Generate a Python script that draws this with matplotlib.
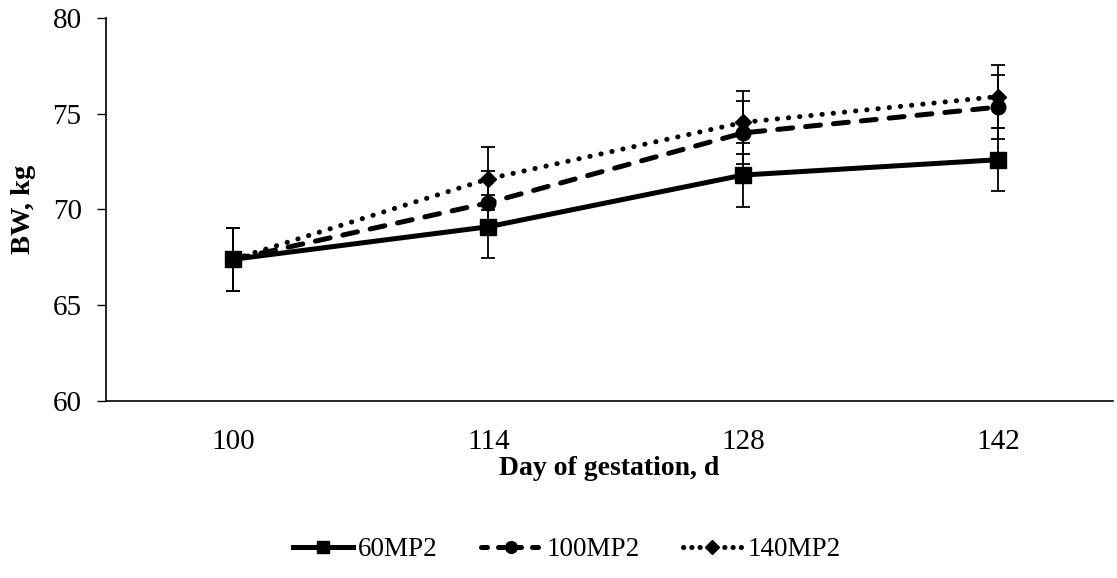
import matplotlib
matplotlib.use("Agg")
import matplotlib.pyplot as plt
from matplotlib.lines import Line2D
import numpy as np

days = ["100", "114", "128", "142"]
series_names = ["60MP2", "100MP2", "140MP2"]
bw_60 = [67.4, 69.1, 71.8, 72.6]
bw_100 = [67.4, 70.35, 74.0, 75.35]
bw_140 = [67.4, 71.6, 74.55, 75.9]
se_60 = [1.65, 1.65, 1.65, 1.65]
se_100 = [1.65, 1.65, 1.65, 1.65]
se_140 = [1.65, 1.65, 1.65, 1.65]
yticks = [60, 65, 70, 75, 80]

plt.rcParams['font.family'] = ['Liberation Serif', 'DejaVu Serif']

fig = plt.figure(figsize=(11.17, 5.78), dpi=100)
W, H = 1117, 578
ax = fig.add_axes([106 / W, 1 - 401 / H, (1113 - 106) / W, (401 - 18) / H])

x = np.arange(len(days))
styles = [
    dict(ls='-', leg_ls='-', marker='s', ms=11, cap='butt'),
    dict(ls=(0, (3, 2.6)), leg_ls=(0, (1.2, 2.2)), marker='o', ms=10.5, cap='round'),
    dict(ls=(0, (0.05, 2.2)), leg_ls=(0, (0.05, 1.6)), marker='D', ms=8.5, cap='round'),
]
data = [(bw_60, se_60), (bw_100, se_100), (bw_140, se_140)]
handles = []
for (vals, se), st, name in zip(data, styles, series_names):
    ax.errorbar(x, vals, yerr=se, fmt='none', ecolor='black', elinewidth=1.3,
                capsize=4.8, capthick=1.3, zorder=2)
    ax.plot(x, vals, color='black', lw=3.6, linestyle=st['ls'],
            marker=st['marker'], markersize=st['ms'],
            markerfacecolor='black', markeredgecolor='black',
            dash_capstyle=st['cap'], label=name, zorder=3)
    handles.append(Line2D([], [], color='black', lw=3.6, linestyle=st['leg_ls'],
                          marker=st['marker'], markersize=st['ms'] * 0.8,
                          markerfacecolor='black', markeredgecolor='black',
                          dash_capstyle=st['cap']))

ax.set_xlim(-0.5, 3.45)
ax.set_ylim(60, 80)
ax.set_xticks(x)
ax.set_xticklabels(days)
ax.set_yticks(yticks)
ax.tick_params(axis='x', length=0, pad=20, labelsize=21)
ax.tick_params(axis='y', length=6.5, width=1, direction='out', pad=11, labelsize=21)
for s in ['top', 'right']:
    ax.spines[s].set_visible(False)
ax.spines['left'].set_linewidth(1.2)
ax.spines['bottom'].set_linewidth(1.2)

ax.set_xlabel("Day of gestation, d", fontsize=20, fontweight='bold', labelpad=1)
ax.set_ylabel("BW, kg", fontsize=20.5, fontweight='bold', labelpad=12)

fig.legend(handles=handles, labels=series_names, loc='center',
           bbox_to_anchor=(567 / W, 1 - 550 / H), ncol=3, frameon=False,
           fontsize=19.5, handlelength=2.2, handletextpad=0.2, columnspacing=1.6)

fig.savefig("out.png", dpi=100)
